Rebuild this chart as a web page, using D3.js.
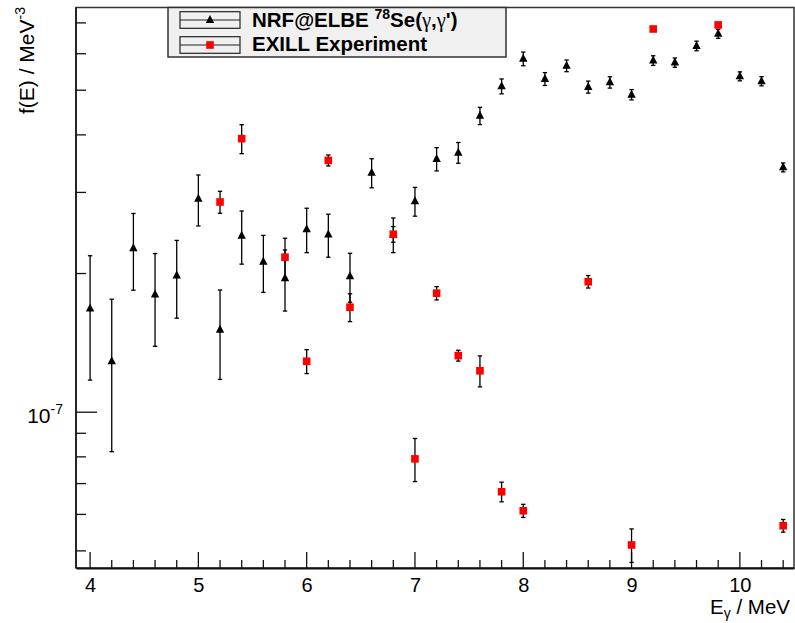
<!DOCTYPE html>
<html><head><meta charset="utf-8">
<script src="https://cdn.jsdelivr.net/npm/d3@7"></script>
<style>body{margin:0;background:#fff} svg{display:block}</style>
</head><body>
<script>
// ---- data ----
const nrfEnergy = [4.0,4.2,4.4,4.6,4.8,5.0,5.2,5.4,5.6,5.8,6.0,6.2,6.4,6.6,6.8,7.0,7.2,7.4,7.6,7.8,8.0,8.2,8.4,8.6,8.8,9.0,9.2,9.4,9.6,9.8,10.0,10.2,10.4];
const nrfValue = [1.68e-7,1.29e-7,2.27e-7,1.80e-7,1.98e-7,2.905e-7,1.51e-7,2.415e-7,2.12e-7,1.954e-7,2.496e-7,2.43e-7,1.973e-7,3.31e-7,2.43e-7,2.87e-7,3.546e-7,3.66e-7,4.40e-7,5.10e-7,5.85e-7,5.29e-7,5.65e-7,5.08e-7,5.20e-7,4.89e-7,5.80e-7,5.74e-7,6.24e-7,6.63e-7,5.36e-7,5.23e-7,3.40e-7];
const nrfError = [0.506e-7,0.469e-7,0.43e-7,0.41e-7,0.38e-7,0.368e-7,0.332e-7,0.319e-7,0.30e-7,0.296e-7,0.276e-7,0.26e-7,0.24e-7,0.24e-7,0.21e-7,0.206e-7,0.206e-7,0.19e-7,0.19e-7,0.19e-7,0.20e-7,0.17e-7,0.165e-7,0.153e-7,0.147e-7,0.126e-7,0.14e-7,0.134e-7,0.15e-7,0.15e-7,0.12e-7,0.12e-7,0.076e-7];

const exillEnergy = [5.2,5.4,5.8,6.0,6.2,6.4,6.8,7.0,7.2,7.4,7.6,7.8,8.0,8.6,9.0,9.2,9.8,10.4];
const exillValue = [2.86e-7,3.925e-7,2.17e-7,1.29e-7,3.52e-7,1.69e-7,2.434e-7,0.792e-7,1.813e-7,1.327e-7,1.23e-7,0.672e-7,0.611e-7,1.92e-7,0.515e-7,6.79e-7,6.93e-7,0.567e-7];
const exillError = [0.157e-7,0.284e-7,0.216e-7,0.077e-7,0.097e-7,0.117e-7,0.095e-7,0.085e-7,0.06e-7,0.036e-7,0.095e-7,0.033e-7,0.02e-7,0.06e-7,0.043e-7,0.05e-7,0.05e-7,0.018e-7];

const xMajorTicks = [4,5,6,7,8,9,10];
const xTickLabels = ["4","5","6","7","8","9","10"];
const yMinorTicks = [5e-8,6e-8,7e-8,8e-8,9e-8,2e-7,3e-7,4e-7,5e-7,6e-7,7e-7];
const yMajorTicks = [1e-7];
const seriesNames = ["NRF@ELBE", "EXILL Experiment"];

// ---- layout ----
const W = 795, H = 623;
const L = 76, R = 794, T = 7.5, B = 568;
const svg = d3.select("body").append("svg").attr("width", W).attr("height", H)
  .style("font-family", "'Liberation Sans', Arial, sans-serif");

const x = d3.scaleLinear().domain([3.87, 10.5]).range([L, R]);
const y = d3.scaleLog().domain([4.59e-8, 7.56e-7]).range([B, T]);

// frame
svg.append("rect").attr("x", L).attr("y", T).attr("width", R - L).attr("height", B - T)
  .attr("fill", "none").attr("stroke", "#333").attr("stroke-width", 1.5);

// x axis
const xMinor = d3.range(4.0, 10.45, 0.2).map(v => +v.toFixed(1)).filter(v => Math.abs(v - Math.round(v)) > 1e-6);
const xAxisMajor = d3.axisBottom(x).tickValues(xMajorTicks).tickSize(0).tickFormat((d, i) => xTickLabels[i]);
const gx = svg.append("g").attr("transform", `translate(0,${B})`).call(xAxisMajor);
gx.select(".domain").attr("stroke", "#111").attr("stroke-width", 2.2);
gx.selectAll("text").attr("font-size", 20).attr("fill", "#000").attr("dy", "0").attr("y", 23.5);
svg.append("g").selectAll("line").data(xMajorTicks).join("line")
  .attr("x1", d => x(d)).attr("x2", d => x(d)).attr("y1", B).attr("y2", B - 16)
  .attr("stroke", "#111").attr("stroke-width", 1.3);
svg.append("g").selectAll("line").data(xMinor).join("line")
  .attr("x1", d => x(d)).attr("x2", d => x(d)).attr("y1", B).attr("y2", B - 8)
  .attr("stroke", "#111").attr("stroke-width", 1.3);

// y axis
svg.append("line").attr("x1", L).attr("x2", L).attr("y1", T).attr("y2", B).attr("stroke", "#111").attr("stroke-width", 1.5);
svg.append("g").selectAll("line").data(yMinorTicks).join("line")
  .attr("x1", L).attr("x2", L + 10).attr("y1", d => y(d)).attr("y2", d => y(d))
  .attr("stroke", "#111").attr("stroke-width", 1.3);
svg.append("g").selectAll("line").data(yMajorTicks).join("line")
  .attr("x1", L).attr("x2", L + 21).attr("y1", d => y(d)).attr("y2", d => y(d))
  .attr("stroke", "#111").attr("stroke-width", 1.3);
const yl = svg.append("g").selectAll("text").data(yMajorTicks).join("text")
  .attr("x", 63).attr("y", d => y(d) + 10.5).attr("text-anchor", "end").attr("font-size", 21);
yl.append("tspan").text("10");
yl.append("tspan").attr("dy", -9).attr("font-size", 14).text("-7");

// axis titles
const xt = svg.append("text").attr("x", 790).attr("y", 614).attr("text-anchor", "end").attr("font-size", 20.5);
xt.append("tspan").text("E");
xt.append("tspan").attr("dy", 4).attr("font-size", 14).text("γ");
xt.append("tspan").attr("dy", -4).text(" / MeV");

const yt = svg.append("text").attr("transform", "translate(34,7) rotate(-90)")
  .attr("text-anchor", "end").attr("font-size", 21);
yt.append("tspan").text("f(E) / MeV");
yt.append("tspan").attr("dy", -9).attr("font-size", 14).text("-3");

// ---- series ----
function drawSeries(xs, vs, es, color, marker) {
  const g = svg.append("g");
  const data = xs.map((d, i) => ({x: d, v: vs[i], e: es[i]}));
  g.selectAll("line.bar").data(data).join("line").attr("class", "bar")
    .attr("x1", d => x(d.x)).attr("x2", d => x(d.x))
    .attr("y1", d => y(d.v + d.e)).attr("y2", d => y(Math.max(d.v - d.e, 1e-9)))
    .attr("stroke", "#000").attr("stroke-width", 1.3);
  ["top", "bot"].forEach(k => {
    g.selectAll("line.cap" + k).data(data).join("line").attr("class", "cap" + k)
      .attr("x1", d => x(d.x) - 2.2).attr("x2", d => x(d.x) + 2.2)
      .attr("y1", d => y(k === "top" ? d.v + d.e : d.v - d.e))
      .attr("y2", d => y(k === "top" ? d.v + d.e : d.v - d.e))
      .attr("stroke", "#000").attr("stroke-width", 1.3);
  });
  if (marker === "tri") {
    g.selectAll("path.m").data(data).join("path").attr("class", "m")
      .attr("d", d => { const cx = x(d.x), cy = y(d.v); return `M${cx},${cy - 5}L${cx + 4.2},${cy + 3}L${cx - 4.2},${cy + 3}Z`; })
      .attr("fill", color);
  } else {
    g.selectAll("rect.m").data(data).join("rect").attr("class", "m")
      .attr("x", d => x(d.x) - 3.8).attr("y", d => y(d.v) - 3.8).attr("width", 7.6).attr("height", 7.6)
      .attr("fill", color);
  }
}
drawSeries(nrfEnergy, nrfValue, nrfError, "#000", "tri");
drawSeries(exillEnergy, exillValue, exillError, "#ff0000", "sq");

// ---- legend ----
const lg = svg.append("g");
lg.append("rect").attr("x", 168).attr("y", 7.5).attr("width", 338).attr("height", 49.5)
  .attr("fill", "#f0f0f0").attr("stroke", "#333").attr("stroke-width", 1.5);
[20, 45].forEach((cy, i) => {
  lg.append("rect").attr("x", 180).attr("y", cy - 8.3).attr("width", 60).attr("height", 16.6)
    .attr("fill", "none").attr("stroke", "#222").attr("stroke-width", 1.2);
  lg.append("line").attr("x1", 180).attr("x2", 240).attr("y1", cy).attr("y2", cy)
    .attr("stroke", "#222").attr("stroke-width", 1.2);
  if (i === 0) {
    lg.append("path").attr("d", `M210,${cy - 5}L214.2,${cy + 3}L205.8,${cy + 3}Z`).attr("fill", "#000");
  } else {
    lg.append("rect").attr("x", 206.2).attr("y", cy - 3.8).attr("width", 7.6).attr("height", 7.6).attr("fill", "#ff0000");
  }
});
const t1 = lg.append("text").attr("x", 252).attr("y", 27).attr("font-size", 20.5).attr("font-weight", "bold");
t1.append("tspan").text(seriesNames[0] + " ");
t1.append("tspan").attr("dy", -8).attr("font-size", 14).text("78");
t1.append("tspan").attr("dy", 8).text("Se(");
t1.append("tspan").attr("font-family", "'Liberation Serif', serif").attr("font-weight", "normal").text("γ");
t1.append("tspan").text(",");
t1.append("tspan").attr("font-family", "'Liberation Serif', serif").attr("font-weight", "normal").text("γ");
t1.append("tspan").text("')");
lg.append("text").attr("x", 252).attr("y", 51).attr("font-size", 20.5).attr("font-weight", "bold").text(seriesNames[1]);
</script>
</body></html>
